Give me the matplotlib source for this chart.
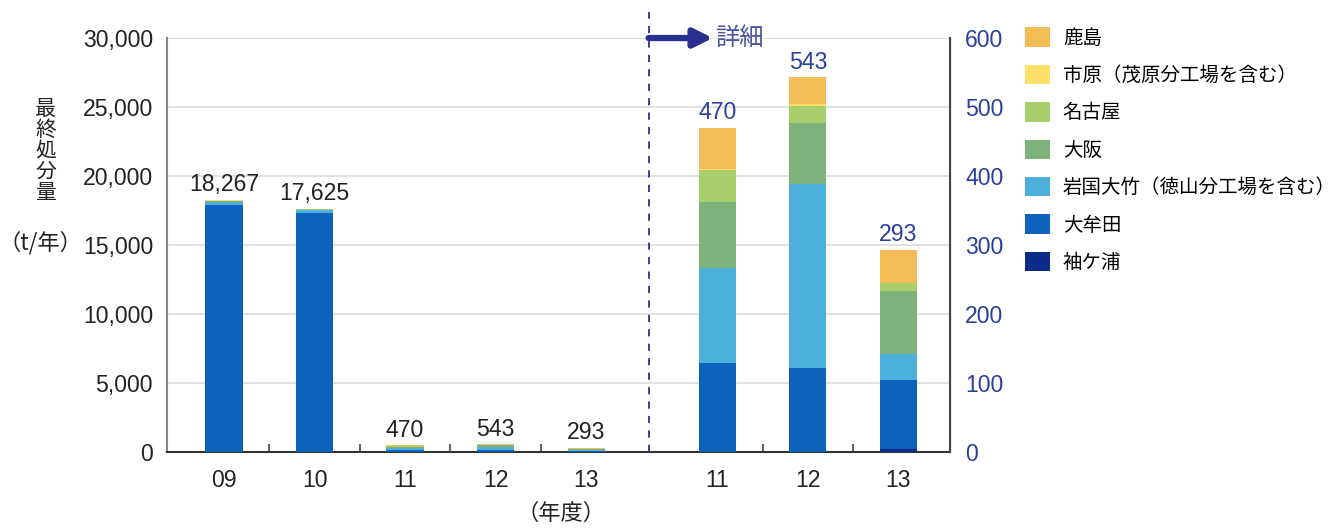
import matplotlib.pyplot as plt
import numpy as np
from matplotlib.patches import Patch

plt.rcParams['font.family'] = ['Liberation Sans', 'Noto Sans CJK JP', 'DejaVu Sans']
JP = ['Noto Sans CJK JP', 'DejaVu Sans']

# plants, stacked bottom -> top
plants = ['袖ケ浦', '大牟田', '岩国大竹（徳山分工場を含む）', '大阪', '名古屋',
          '市原（茂原分工場を含む）', '鹿島']
colors = ['#0c2a8a', '#0d63bb', '#4db0db', '#7db27a', '#a8cf6c', '#fedf6a', '#f2bc57']

years = ['09', '10', '11', '12', '13']
detail_years = ['11', '12', '13']

# t/year per plant, one list per year (same order as plants)
fy09 = [0, 17900, 220, 60, 37, 20, 30]
fy10 = [0, 17330, 180, 50, 30, 15, 20]
fy11 = [0, 129, 138, 95, 47, 1, 60]
fy12 = [0, 121, 267, 89, 25, 2, 39]
fy13 = [4, 101, 37, 91, 12, 0, 48]
totals = [18267, 17625, 470, 543, 293]

left_data = np.array([fy09, fy10, fy11, fy12, fy13])
right_data = np.array([fy11, fy12, fy13])

fig = plt.figure(figsize=(13.38, 5.28), dpi=100)
ax = fig.add_axes([0.1248, 0.144, 0.5852, 0.784])
ax2 = ax.twinx()

x_left = np.arange(len(years))
x_right = np.arange(len(detail_years)) + 5.45
width = 0.41
fs = 16.6
blue_txt = '#2a3f9c'

bottom = np.zeros(len(years))
for i, name in enumerate(plants):
    ax.bar(x_left, left_data[:, i], width, bottom=bottom, color=colors[i], zorder=3)
    bottom += left_data[:, i]

bottom = np.zeros(len(detail_years))
for i, name in enumerate(plants):
    ax2.bar(x_right, right_data[:, i], width, bottom=bottom, color=colors[i], zorder=3)
    bottom += right_data[:, i]

for x, t in zip(x_left, totals):
    ax.text(x, t + 250, f'{t:,}', ha='center', va='bottom', fontsize=fs, color='#222222')
for x, t in zip(x_right, totals[2:]):
    ax2.text(x, t + 5, f'{t:,}', ha='center', va='bottom', fontsize=fs, color=blue_txt)

ax.set_xlim(-0.63, 8.02)
ax.set_ylim(0, 30000)
ax2.set_ylim(0, 600)
ax.set_yticks(np.arange(0, 30001, 5000))
ax.set_yticklabels([f'{v:,}' for v in range(0, 30001, 5000)], fontsize=fs, color='#222222')
ax2.set_yticks(np.arange(0, 601, 100))
ax2.set_yticklabels([str(v) for v in range(0, 601, 100)], fontsize=fs, color=blue_txt)
ax.tick_params(axis='y', length=0, pad=10)
ax2.tick_params(axis='y', length=0, pad=11)
ax.grid(axis='y', color='#dddddd', linewidth=1.2, zorder=0)

ax.set_xticks(list(x_left) + list(x_right))
ax.set_xticklabels(years + detail_years, fontsize=fs, color='#222222')
ax.set_xticks([0.5, 1.5, 2.5, 3.5, 5.95, 6.95], minor=True)
ax.tick_params(axis='x', which='major', length=0, pad=12)
ax.tick_params(axis='x', which='minor', direction='in', length=6, width=1.5, color='#666666')

for a in (ax, ax2):
    a.spines['top'].set_visible(False)
ax.spines['left'].set_color('#888888')
ax.spines['left'].set_linewidth(1.5)
ax2.spines['left'].set_visible(False)
ax2.spines['right'].set_color('#444444')
ax2.spines['right'].set_linewidth(1.5)
ax.spines['bottom'].set_color('#333333')
ax.spines['bottom'].set_linewidth(1.5)
ax2.spines['bottom'].set_visible(False)

# divider and "detail" arrow
ax.plot([4.69, 4.69], [0, 1.063], transform=ax.get_xaxis_transform(), color='#2b2f8f',
        linestyle=(0, (4, 4)), linewidth=1.3, clip_on=False, zorder=4)
ax.annotate('', xy=(5.4, 1.0), xytext=(4.69, 1.0), xycoords=ax.get_xaxis_transform(),
            arrowprops=dict(arrowstyle='-|>,head_length=1.1,head_width=0.55',
                            color='#2b2f8f', lw=4.5, shrinkA=0, shrinkB=0))
ax.text(5.43, 1.0, '詳細', transform=ax.get_xaxis_transform(), ha='left', va='center',
        fontsize=17.5, color='#4a55a0', family=JP)

fig.text(0.034, 0.714, '最\n終\n処\n分\n量', ha='center', va='center', fontsize=15,
         color='#222222', linespacing=0.95, family=JP)
fig.text(0.030, 0.54, '（t/年）', ha='center', va='center', fontsize=16, color='#222222',
         family=JP)
fig.text(0.419, 0.028, '（年度）', ha='center', va='center', fontsize=16, color='#222222',
         family=JP)

handles = [Patch(facecolor=colors[i], label=plants[i]) for i in range(len(plants) - 1, -1, -1)]
fig.legend(handles=handles, loc='upper left', bbox_to_anchor=(0.766, 0.948), frameon=False,
           prop={'family': JP, 'size': 14}, handlelength=1.3, handleheight=1.15,
           labelspacing=0.83, handletextpad=0.65, borderaxespad=0, borderpad=0)

fig.savefig('out.png', dpi=100)
